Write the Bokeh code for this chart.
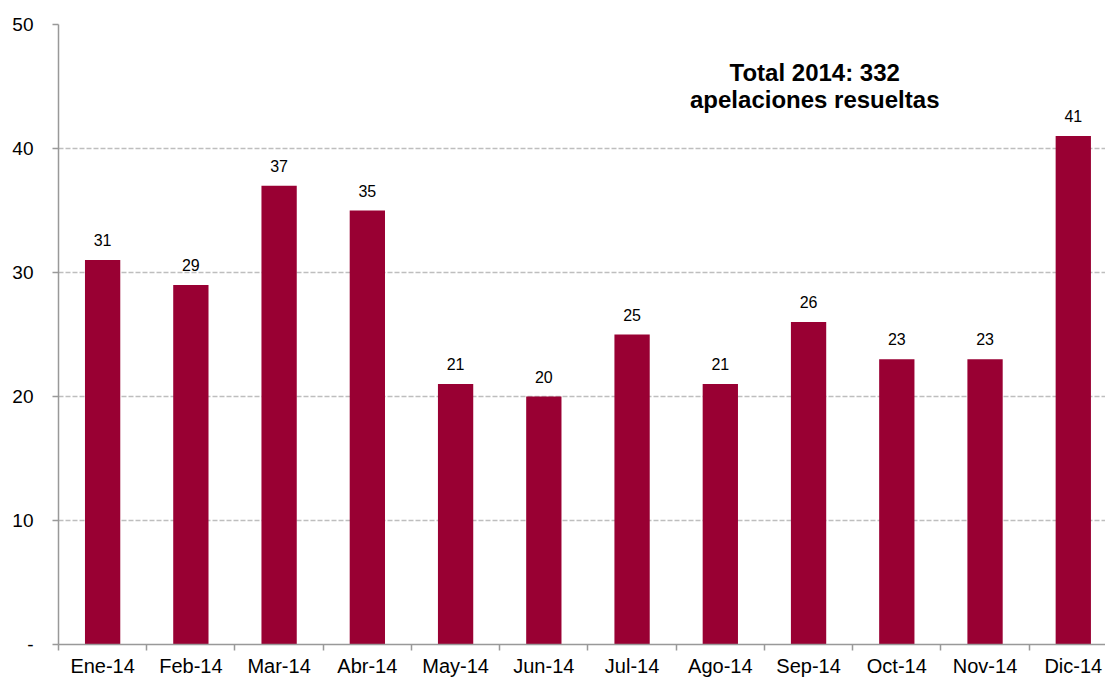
from bokeh.plotting import figure
from bokeh.models import Range1d, FixedTicker, Label
from bokeh.core.properties import value
from bokeh.embed import file_html
from bokeh.resources import INLINE

months = ["Ene-14", "Feb-14", "Mar-14", "Abr-14", "May-14", "Jun-14",
          "Jul-14", "Ago-14", "Sep-14", "Oct-14", "Nov-14", "Dic-14"]
values = [31, 29, 37, 35, 21, 20, 25, 21, 26, 23, 23, 41]
y_ticks = [0, 10, 20, 30, 40, 50]
y_tick_labels = ["-", "10", "20", "30", "40", "50"]
total_lines = ["Total 2014: 332", "apelaciones resueltas"]

FONT = "Liberation Sans"
BAR = "#990033"
AXIS = "#999999"

xs = [i + 0.5 for i in range(len(months))]

p = figure(width=1105, height=679, x_range=Range1d(0, 11.865), y_range=Range1d(0, 50),
           output_backend="svg", toolbar_location=None,
           min_border_left=58, min_border_right=0, min_border_top=24, min_border_bottom=0)
p.outline_line_color = None

p.vbar(x=xs, top=values, width=0.4, fill_color=BAR, line_color=None)
p.text(x=xs, y=values, text=[str(v) for v in values], text_align="center",
       text_baseline="alphabetic", y_offset=-20, text_font=value(FONT),
       text_font_size="16px", text_color="black")

p.add_layout(Label(x=8.57, y=47.2, text="\n".join(total_lines), text_align="center",
                   text_baseline="top", text_font=FONT, text_font_size="24px",
                   text_font_style="bold", text_color="black", text_line_height=1.0))

xa = p.xaxis[0]
xa.ticker = FixedTicker(ticks=xs, minor_ticks=list(range(len(months) + 1)))
xa.major_label_overrides = {x: m for x, m in zip(xs, months)}
xa.major_tick_out = 0
xa.major_tick_in = 0
xa.minor_tick_out = 6
xa.minor_tick_in = 0
xa.minor_tick_line_color = AXIS
xa.minor_tick_line_width = 1.5
xa.axis_line_color = AXIS
xa.axis_line_width = 1.5
xa.major_label_standoff = 4
xa.major_label_text_font = FONT
xa.major_label_text_font_size = "20px"
xa.major_label_text_color = "black"

ya = p.yaxis[0]
ya.ticker = FixedTicker(ticks=y_ticks)
ya.major_label_overrides = {t: l for t, l in zip(y_ticks, y_tick_labels)}
ya.major_tick_out = 6
ya.major_tick_in = 0
ya.major_tick_line_color = AXIS
ya.major_tick_line_width = 1.5
ya.minor_tick_line_color = None
ya.axis_line_color = AXIS
ya.axis_line_width = 1.5
ya.major_label_standoff = 19
ya.major_label_text_font = FONT
ya.major_label_text_font_size = "19px"
ya.major_label_text_color = "black"

p.xgrid.grid_line_color = None
p.ygrid.grid_line_color = "#bebebe"
p.ygrid.grid_line_dash = "5 2"
p.ygrid.grid_line_width = 1.5

open("out.html", "w").write(file_html(p, INLINE))
